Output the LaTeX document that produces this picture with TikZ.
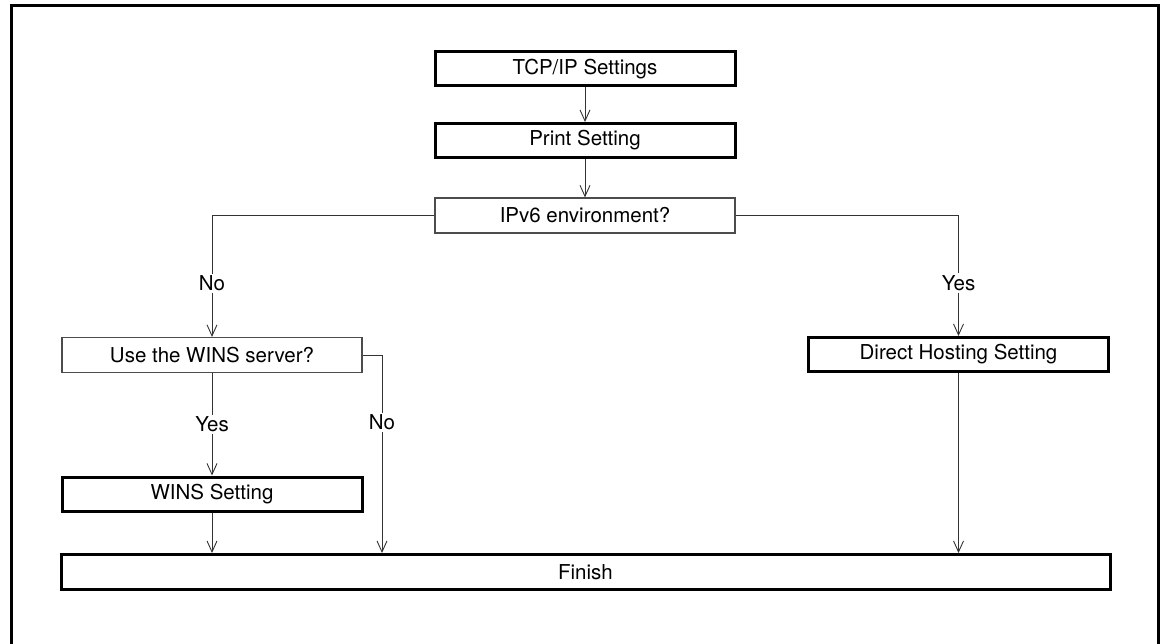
\documentclass[tikz,border=0pt]{standalone}
\usepackage{fontspec}
\setmainfont{TeX Gyre Heros}
\usetikzlibrary{arrows.meta,calc}
\begin{document}
\begin{tikzpicture}[x=1pt,y=-1pt,
  every node/.style={font=\fontsize{20.5}{24}\selectfont, text=black},
  thickbox/.style={draw=black, line width=3pt, minimum width=300pt, minimum height=34pt, inner sep=0pt},
  thinbox/.style={draw=black!70, line width=1.2pt, minimum width=300pt, minimum height=35pt, inner sep=0pt},
  conn/.style={draw=black!80, line width=0.9pt, -{Straight Barb[length=11pt,width=10pt,line width=0.9pt]}},
  plain/.style={draw=black!80, line width=0.9pt},
  lbl/.style={fill=white, inner sep=2pt}]
\useasboundingbox (0,0) rectangle (1164,644);
\draw[line width=3pt] (11,650) -- (11,6) -- (1158,6) -- (1158,650);

\node[thickbox] (tcp) at (585,69) {TCP/IP Settings};
\node[thickbox] (print) at (585,140.5) {Print Setting};
\node[thinbox] (ipv6) at (585,215.5) {IPv6 environment?};
\node[thinbox] (usewins) at (212,355) {Use the WINS server?};
\node[thickbox] (winsset) at (212,494) {WINS Setting};
\node[thickbox] (direct) at (958.5,354.5) {Direct Hosting Setting};
\node[thickbox, minimum width=1049pt, minimum height=35pt] (finish) at (585.5,572) {Finish};
\coordinate (nox) at (382,0);

\draw[conn] (tcp.south) -- (print.north);
\draw[conn] (print.south) -- (ipv6.north);
\draw[conn] (ipv6.west) -| node[lbl, pos=0.78] {No} (usewins.north);
\draw[conn] (ipv6.east) -| node[lbl, pos=0.78] {Yes} (direct.north);
\draw[conn] (usewins.south) -- node[lbl, pos=0.5] {Yes} (winsset.north);
\draw[conn] (usewins.east) -| node[lbl, pos=0.67] {No} (nox |- finish.north);
\draw[conn] (winsset.south) -- (winsset.south |- finish.north);
\draw[conn] (direct.south) -- (direct.south |- finish.north);
\end{tikzpicture}
\end{document}
